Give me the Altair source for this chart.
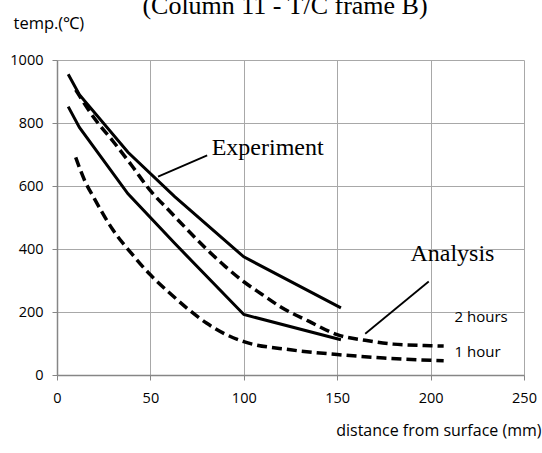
import altair as alt
import pandas as pd

# ---- data ----
title_text = ["(Column 11 - T/C frame B)"]

exp_x = [6, 12, 38, 63, 100, 152]
exp_2h = [955, 890, 707, 566, 375, 213]
exp_1h = [852, 786, 575, 418, 192, 112]

ana2_x = [10, 20, 30, 40, 50, 60, 70, 80, 90, 100, 110, 120, 135, 150, 165, 180, 200, 207]
ana2_y = [905, 815, 742, 665, 585, 522, 460, 400, 345, 296, 255, 215, 170, 128, 110, 98, 93, 92]

ana1_x = [10, 15, 20, 30, 40, 50, 60, 70, 80, 90, 100, 125, 150, 175, 207]
ana1_y = [691, 615, 560, 460, 385, 318, 262, 210, 165, 130, 106, 80, 65, 54, 45]

ann_text = ["Experiment", "Analysis"]
ann_x = [82.8, 189.2]
ann_y = [697, 362]

lead_x = [80.4, 199]
lead_y = [697, 297]
lead_x2 = [54.1, 165]
lead_y2 = [630, 131]

hour_text = ["2 hours", "1 hour"]
hour_x = [212.8, 212.8]
hour_y = [184, 73]

x_ticks = [0, 50, 100, 150, 200, 250]
y_ticks = [0, 200, 400, 600, 800, 1000]

SERIF = "Liberation Serif"
SANS = "Open Sans"
TXT = "#000000"

rows = []
for x, y in zip(exp_x, exp_2h):
    rows.append({"d": x, "t": y, "s": "exp2"})
for x, y in zip(exp_x, exp_1h):
    rows.append({"d": x, "t": y, "s": "exp1"})
exp_df = pd.DataFrame(rows)

rows = []
for x, y in zip(ana2_x, ana2_y):
    rows.append({"d": x, "t": y, "s": "ana2"})
for x, y in zip(ana1_x, ana1_y):
    rows.append({"d": x, "t": y, "s": "ana1"})
ana_df = pd.DataFrame(rows)

xscale = alt.Scale(domain=[0, 250], nice=False, zero=False)
yscale = alt.Scale(domain=[0, 1000], nice=False, zero=False)

xaxis = alt.Axis(
    values=x_ticks, format="d", title="distance from surface (mm)", titleAnchor="end",
    titleX=484, titleY=55, titleAlign="right", titleBaseline="middle",
    titleFont=SANS, titleFontSize=16, titleFontWeight="normal", titleColor=TXT,
    labelFont=SANS, labelFontSize=14.5, labelColor=TXT, labelPadding=11,
    tickSize=5, tickColor="#868686", domainColor="#868686", domainWidth=1.5,
    gridColor="#a8a8a8", gridWidth=1, labelFlush=False,
)
yaxis = alt.Axis(
    values=y_ticks, format="d", title="temp.(℃)", titleAngle=0, titleX=-44, titleY=-37,
    titleAlign="left", titleBaseline="middle",
    titleFont=SANS, titleFontSize=16.5, titleFontWeight="normal", titleColor=TXT,
    labelFont=SANS, labelFontSize=14.5, labelColor=TXT, labelPadding=9,
    tickSize=5, tickColor="#868686", domainColor="#868686", domainWidth=1.5,
    gridColor="#a8a8a8", gridWidth=1, labelFlush=False,
)

base_exp = alt.Chart(exp_df).mark_line(color="black", strokeWidth=3).encode(
    x=alt.X("d:Q", scale=xscale, axis=xaxis),
    y=alt.Y("t:Q", scale=yscale, axis=yaxis),
    detail="s:N",
)

ana = alt.Chart(ana_df).mark_line(
    color="black", strokeWidth=3.5, strokeDash=[10, 5], interpolate="monotone"
).encode(
    x=alt.X("d:Q", scale=xscale),
    y=alt.Y("t:Q", scale=yscale),
    detail="s:N",
)

ann_df = pd.DataFrame({"txt": ann_text, "x": ann_x, "y": ann_y})
ann = alt.Chart(ann_df).mark_text(
    font=SERIF, fontSize=24, align="left", baseline="alphabetic", color="black"
).encode(x=alt.X("x:Q", scale=xscale), y=alt.Y("y:Q", scale=yscale), text="txt:N")

lead_df = pd.DataFrame({"x": lead_x, "y": lead_y, "x2": lead_x2, "y2": lead_y2})
lead = alt.Chart(lead_df).mark_rule(color="black", strokeWidth=1.8).encode(
    x=alt.X("x:Q", scale=xscale), y=alt.Y("y:Q", scale=yscale), x2="x2:Q", y2="y2:Q"
)

hour_df = pd.DataFrame({"txt": hour_text, "x": hour_x, "y": hour_y})
hours = alt.Chart(hour_df).mark_text(
    font=SANS, fontSize=15, align="left", baseline="middle", color=TXT
).encode(x=alt.X("x:Q", scale=xscale), y=alt.Y("y:Q", scale=yscale), text="txt:N")

title_df = pd.DataFrame({"txt": title_text})
title = alt.Chart(title_df).mark_text(
    font=SERIF, fontSize=26, align="center", baseline="alphabetic", color="black"
).encode(x=alt.value(228), y=alt.value(-46), text="txt:N")

chart = alt.layer(base_exp, ana, lead, ann, hours, title).properties(
    width=467, height=315,
    autosize=alt.AutoSizeParams(type="none"),
    padding={"left": 57, "top": 60, "right": 18, "bottom": 78},
    background="white",
).configure_view(stroke=None)

chart.save("out.html", embed_options={"renderer": "svg", "actions": False})
